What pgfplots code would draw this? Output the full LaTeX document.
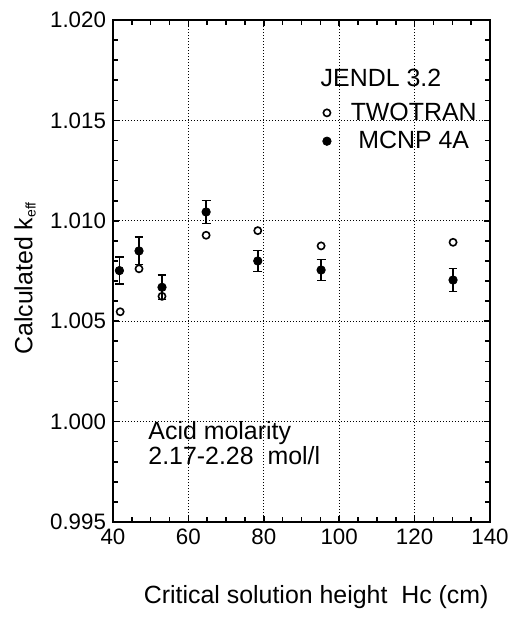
\documentclass[border=0pt]{standalone}
\usepackage{fontspec}
\setmainfont{Liberation Sans}
\usepackage{pgfplots}
\pgfplotsset{compat=1.18}

% MCNP 4A: height, keff, error
\pgfplotstableread{
x y ey
41.7 1.00752 0.00068
46.9 1.00850 0.00068
53.0 1.00669 0.00060
64.7 1.01044 0.00058
78.4 1.00800 0.00053
95.2 1.00755 0.00053
130.2 1.00705 0.00057
}\mcnp
% TWOTRAN
\pgfplotstableread{
x y
41.9 1.00547
46.9 1.00761
53.0 1.00624
64.7 1.00928
78.4 1.00951
95.2 1.00875
130.2 1.00893
}\twotran

\newcommand\lab{\fontsize{12.5}{11.6}\selectfont}

\begin{document}
\begin{tikzpicture}
\begin{axis}[
  scale only axis,
  width=188.5bp, height=251bp,
  xmin=40, xmax=140, ymin=0.995, ymax=1.020,
  xtick={40,60,...,140},
  ytick={0.995,1.000,1.005,1.010,1.015,1.020},
  minor x tick num=3, minor y tick num=4,
  tick align=inside,
  xtick pos=both, ytick pos=both,
  major tick length=3bp, minor tick length=2.5bp,
  every tick/.style={black, line width=0.8bp},
  axis line style={line width=1bp},
  grid=major,
  major grid style={black, line width=0.6bp, dash pattern=on 0.6bp off 0.9bp},
  /pgf/number format/assume math mode=true,
  yticklabel style={/pgf/number format/.cd, fixed, fixed zerofill, precision=3},
  scaled y ticks=false,
  tick label style={font=\fontsize{11.2}{12}\selectfont},
  label style={font=\lab},
  xlabel={Critical solution height\ \ Hc (cm)},
  xlabel style={at={(axis description cs:0.539,0)}, anchor=center, yshift=-37.5bp},
  ylabel={Calculated k{\fontsize{10}{10}\selectfont\textsubscript{eff}}},
  ylabel style={at={(axis description cs:0,0.486)}, anchor=center, rotate=0, yshift=44bp},
  legend style={at={(axis cs:92.8,1.0163)}, anchor=north west, draw=none, fill=none,
    font=\lab, row sep=0bp},
  legend cell align=center,
  legend image code/.code={\path[draw=none, fill=none] (0cm,0cm) -- (0.5cm,0cm);
    \draw plot[only marks] coordinates {(0.15cm,0cm)};},
]
\addplot[only marks, mark=o, mark size=1.8bp, line width=0.8bp, black]
  table[x=x, y=y] {\twotran};
\addlegendentry{TWOTRAN}
\addplot[only marks, mark=*, mark size=2.1bp, black,
  error bars/.cd, y dir=both, y explicit,
  error bar style={line width=0.8bp, black},
  error mark options={rotate=90, line width=0.8bp, mark size=2.2bp, black}]
  table[x=x, y=y, y error=ey] {\mcnp};
\addlegendentry{MCNP 4A}
\node[anchor=west, inner sep=0pt, font=\lab] at (axis cs:95.0,1.0171) {JENDL 3.2};
\node[anchor=west, align=left, inner sep=0pt, font=\lab] at (axis cs:49.3,0.99891)
  {Acid molarity\\2.17-2.28\ \ mol/l};
\end{axis}
\path ([xshift=-56.5bp,yshift=-47.5bp]current axis.south west)
  rectangle ([xshift=14.5bp,yshift=10bp]current axis.north east);
\end{tikzpicture}
\end{document}
